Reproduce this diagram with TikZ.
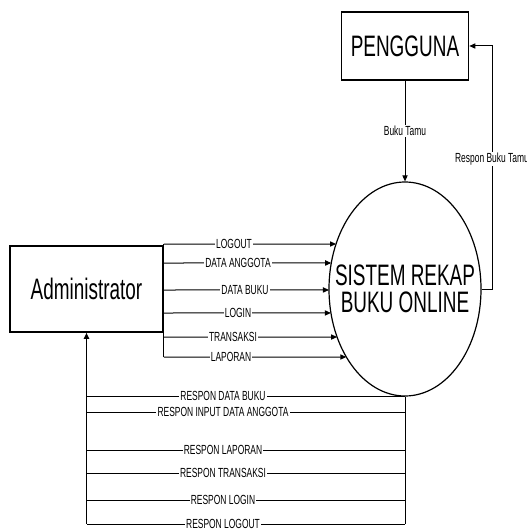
\documentclass[tikz,border=0pt]{standalone}
\usepackage{fontspec}
\setmainfont{Liberation Sans}[FakeStretch=0.64]
\usetikzlibrary{arrows.meta, shapes.geometric, intersections}

\tikzset{
  entity/.style={draw, line width=0.8pt, rectangle, inner sep=0pt, font=\fontsize{14.8}{14.8}\selectfont},
  process/.style={draw, line width=0.6pt, ellipse, inner sep=0pt, minimum width=76pt, minimum height=107pt},
  flow/.style={-{Triangle[length=3pt,width=2.6pt]}, line width=0.5pt},
  plain/.style={line width=0.5pt},
  lbl/.style={fill=white, inner sep=0.6pt, font=\fontsize{6.6}{6.6}\selectfont},
}

\begin{document}
\begin{tikzpicture}[x=0.5pt, y=-0.5pt]
\useasboundingbox (0,0) rectangle (526,529);

% Entitas
\node[entity, minimum width=76.5pt, minimum height=43pt] (admin) at (86.5,289) {Administrator};
\node[entity, minimum width=63.5pt, minimum height=34pt] (pengguna) at (405,46) {PENGGUNA};

% Proses
\node[process, label={[align=center, font=\fontsize{14.8}{13.3}\selectfont]center:SISTEM REKAP\\BUKU ONLINE}] (sis) at (405,289) {};
\path[name path=sisborder] (sis.center) ellipse [x radius=38pt, y radius=53.5pt];

% Buku Tamu
\draw[flow] (pengguna.south) -- (sis.north);
\node[lbl] (bukutamu) at (405,131) {Buku Tamu};

% Respon Buku Tamu
\draw[flow] (sis.east) -- ++(11,0) |- (pengguna.east);
\node[lbl] (responbt) at (492,159) {Respon Buku Tamu};

% Administrator ke sistem
\draw[plain] (admin.east |- 0,244) -- (admin.east |- 0,357);
\foreach \yy/\txt/\xx in {244/LOGOUT/234, 263/DATA ANGGOTA/238, 290/DATA BUKU/245,
                          313/LOGIN/238, 337/TRANSAKSI/233, 357/LAPORAN/231}{
  \path[name path=hline] (admin.east |- 0,\yy) -- (sis.center |- 0,\yy);
  \draw[flow, name intersections={of=sisborder and hline}] (admin.east |- 0,\yy) -- (intersection-1);
  \node[lbl] at (\xx,\yy) {\txt};
}

% Sistem ke Administrator
\draw[plain] (sis.south) -- (sis.south |- 0,524);
\draw[flow, line width=0.8pt] (admin.south |- 0,524) -- (admin.south);
\foreach \yy/\txt in {396/RESPON DATA BUKU, 412/RESPON INPUT DATA ANGGOTA, 450/RESPON LAPORAN,
                      473/RESPON TRANSAKSI, 500/RESPON LOGIN, 524/RESPON LOGOUT}{
  \draw[plain] (sis.south |- 0,\yy) -- (admin.south |- 0,\yy);
  \node[lbl] at (223,\yy) {\txt};
}
\end{tikzpicture}
\end{document}
